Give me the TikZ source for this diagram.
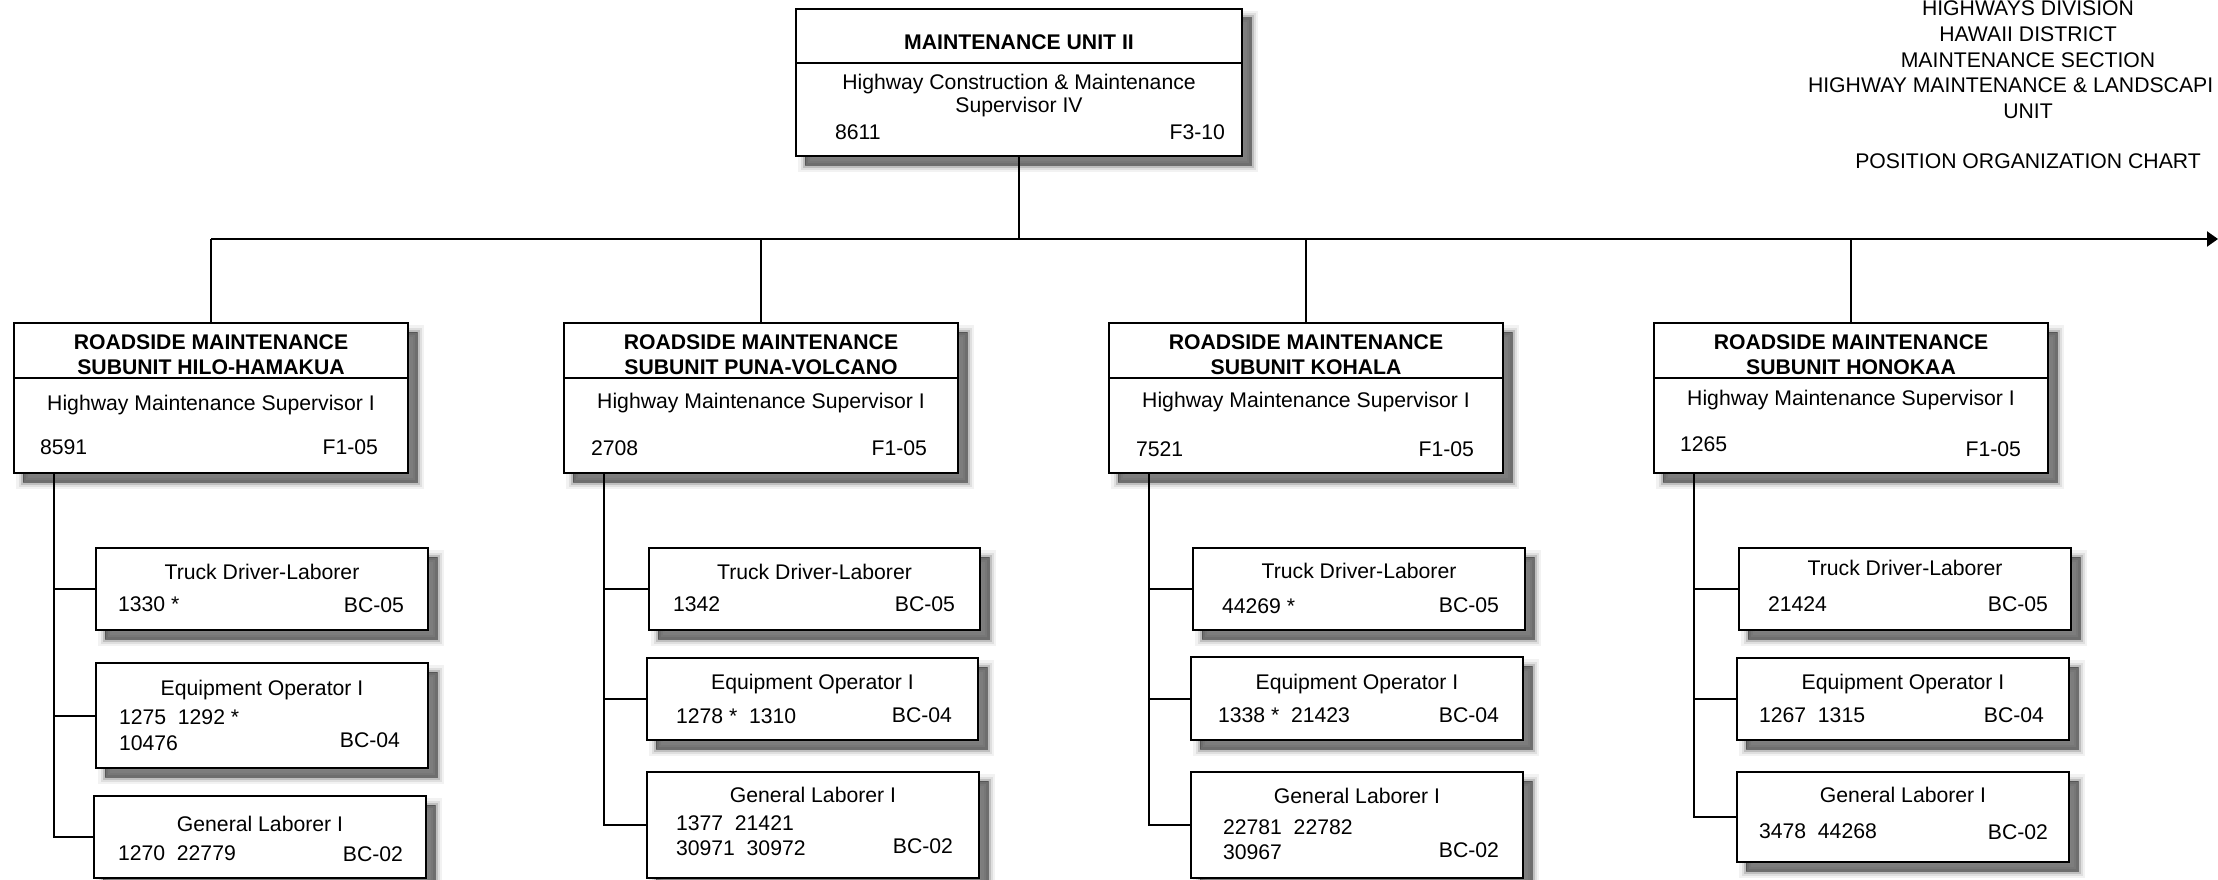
\documentclass[tikz,border=0pt]{standalone}
\usepackage{fontspec}
\setmainfont{Liberation Sans}
\usetikzlibrary{shadows,arrows.meta}
\tikzset{
  boxshadow/.style={
    general shadow={shadow xshift=9pt,shadow yshift=-9pt,draw=black,line width=14pt,opacity=0.05},
    general shadow={shadow xshift=9pt,shadow yshift=-9pt,draw=black,line width=9pt,opacity=0.08},
    general shadow={shadow xshift=9pt,shadow yshift=-9pt,draw=black,line width=5pt,opacity=0.14},
    general shadow={shadow xshift=9pt,shadow yshift=-9pt,fill=black!70,draw=black!70,line width=1pt,opacity=0.7}},
  pbox/.style={draw=black,fill=white,line width=2pt,inner sep=0pt,outer sep=0pt,boxshadow},
  divline/.style={draw=black,line width=1.5pt},
  conn/.style={draw=black,line width=2pt},
  txt/.style={inner sep=0pt,outer sep=0pt,font=\fontsize{21.2}{25}\selectfont,text height=15.2pt,text depth=0pt},
  btxt/.style={txt,font=\fontsize{21.2}{25}\selectfont\bfseries},
  lt/.style={txt,anchor=west},
  rt/.style={txt,anchor=east}
}
\newcommand\mkbox[5]{\node[pbox,anchor=north west,minimum width=#4pt,minimum height=#5pt] (#1) at (#2,#3) {};}
\begin{document}
\begin{tikzpicture}[x=1pt,y=-1pt]
\useasboundingbox (0,0) rectangle (2218,880);
\clip (0,0) rectangle (2218,880);
\fill[white] (0,0) rectangle (2218,880);

% header
\node[txt] (h1) at (2028,8) {HIGHWAYS DIVISION};
\node[txt] (h2) at (2028,34) {HAWAII DISTRICT};
\node[txt] (h3) at (2028,60) {MAINTENANCE SECTION};
\node[lt] (h4) at (1808,85) {HIGHWAY MAINTENANCE \& LANDSCAPI};
\node[txt] (h5) at (2028,111) {UNIT};
\node[txt] (h6) at (2028,161) {POSITION ORGANIZATION CHART};

% boxes
\mkbox{top}{796}{9}{446}{147}
\mkbox{s1}{14}{323}{394}{150}
\mkbox{s2}{564}{323}{394}{150}
\mkbox{s3}{1109}{323}{394}{150}
\mkbox{s4}{1654}{323}{394}{150}
\mkbox{a1}{96}{548}{332}{82}
\mkbox{b1}{96}{663}{332}{105}
\mkbox{c1}{94}{796}{332}{82}
\mkbox{a2}{649}{548}{331}{82}
\mkbox{b2}{647}{658}{331}{82}
\mkbox{c2}{647}{772}{332}{106}
\mkbox{a3}{1193}{548}{332}{82}
\mkbox{b3}{1191}{657}{332}{83}
\mkbox{c3}{1191}{772}{332}{106}
\mkbox{a4}{1739}{548}{332}{82}
\mkbox{b4}{1737}{658}{332}{82}
\mkbox{c4}{1737}{772}{332}{90}

% dividers
\draw[divline] ([yshift=-54pt]top.north west) -- ([yshift=-54pt]top.north east);
\foreach \s in {s1,s2,s3,s4}{
  \draw[divline] ([yshift=-55pt]\s.north west) -- ([yshift=-55pt]\s.north east);
}

% connectors
\coordinate (busY) at (0,239);
\coordinate (busEnd) at (2218,239);
\draw[conn] (top.south) -- (top.south |- busY);
\draw[conn,-{Triangle[length=11pt,width=15pt]}] (s1.north |- busY) -- (busEnd);
\foreach \s in {s1,s2,s3,s4}{
  \draw[conn] (\s.north) -- (\s.north |- busY);
}
\foreach \i in {1,2,3,4}{
  \coordinate (v\i) at ([xshift=40pt]s\i.south west);
  \draw[conn] (v\i) |- (c\i.west);
  \draw[conn] (v\i |- a\i.west) -- (a\i.west);
  \draw[conn] (v\i |- b\i.west) -- (b\i.west);
}

% top box texts
\node[btxt] (top1) at (1019,42) {MAINTENANCE UNIT II};
\node[txt] (top2) at (1019,82) {Highway Construction \& Maintenance};
\node[txt] (top3) at (1019,105) {Supervisor IV};
\node[lt] (top4) at (835,132) {8611};
\node[rt] (top5) at (1225,132) {F3-10};

% subunit texts
\node[btxt] (s1t1) at (211,342) {ROADSIDE MAINTENANCE};
\node[btxt] (s1t2) at (211,367) {SUBUNIT HILO-HAMAKUA};
\node[txt] (s1t3) at (211,403) {Highway Maintenance Supervisor I};
\node[lt] (s1t4) at (40,447) {8591};
\node[rt] (s1t5) at (378,447) {F1-05};

\node[btxt] (s2t1) at (761,342) {ROADSIDE MAINTENANCE};
\node[btxt] (s2t2) at (761,367) {SUBUNIT PUNA-VOLCANO};
\node[txt] (s2t3) at (761,401) {Highway Maintenance Supervisor I};
\node[lt] (s2t4) at (591,448) {2708};
\node[rt] (s2t5) at (927,448) {F1-05};

\node[btxt] (s3t1) at (1306,342) {ROADSIDE MAINTENANCE};
\node[btxt] (s3t2) at (1306,367) {SUBUNIT KOHALA};
\node[txt] (s3t3) at (1306,400) {Highway Maintenance Supervisor I};
\node[lt] (s3t4) at (1136,449) {7521};
\node[rt] (s3t5) at (1474,449) {F1-05};

\node[btxt] (s4t1) at (1851,342) {ROADSIDE MAINTENANCE};
\node[btxt] (s4t2) at (1851,367) {SUBUNIT HONOKAA};
\node[txt] (s4t3) at (1851,398) {Highway Maintenance Supervisor I};
\node[lt] (s4t4) at (1680,444) {1265};
\node[rt] (s4t5) at (2021,449) {F1-05};

% column 1 children
\node[txt] (a1t) at (262,572) {Truck Driver-Laborer};
\node[lt] (a1n) at (118,604) {1330 *};
\node[rt] (a1g) at (404,605) {BC-05};
\node[txt] (b1t) at (262,688) {Equipment Operator I};
\node[lt] (b1n) at (119,717) {1275\ \ 1292 *};
\node[lt] (b1m) at (119,743) {10476};
\node[rt] (b1g) at (400,740) {BC-04};
\node[txt] (c1t) at (260,824) {General Laborer I};
\node[lt] (c1n) at (118,853) {1270\ \ 22779};
\node[rt] (c1g) at (403,854) {BC-02};

% column 2 children
\node[txt] (a2t) at (814.5,572) {Truck Driver-Laborer};
\node[lt] (a2n) at (673,604) {1342};
\node[rt] (a2g) at (955,604) {BC-05};
\node[txt] (b2t) at (812.5,682) {Equipment Operator I};
\node[lt] (b2n) at (676,716) {1278 *\ \ 1310};
\node[rt] (b2g) at (952,715) {BC-04};
\node[txt] (c2t) at (813,795) {General Laborer I};
\node[lt] (c2n) at (676,823) {1377\ \ 21421};
\node[lt] (c2m) at (676,848) {30971\ \ 30972};
\node[rt] (c2g) at (953,846) {BC-02};

% column 3 children
\node[txt] (a3t) at (1359,571) {Truck Driver-Laborer};
\node[lt] (a3n) at (1222,606) {44269 *};
\node[rt] (a3g) at (1499,605) {BC-05};
\node[txt] (b3t) at (1357,682) {Equipment Operator I};
\node[lt] (b3n) at (1218,715) {1338 *\ \ 21423};
\node[rt] (b3g) at (1499,715) {BC-04};
\node[txt] (c3t) at (1357,796) {General Laborer I};
\node[lt] (c3n) at (1223,827) {22781\ \ 22782};
\node[lt] (c3m) at (1223,851.5) {30967};
\node[rt] (c3g) at (1499,849.5) {BC-02};

% column 4 children
\node[txt] (a4t) at (1905,568) {Truck Driver-Laborer};
\node[lt] (a4n) at (1768,604) {21424};
\node[rt] (a4g) at (2048,604) {BC-05};
\node[txt] (b4t) at (1903,682) {Equipment Operator I};
\node[lt] (b4n) at (1759,715) {1267\ \ 1315};
\node[rt] (b4g) at (2044,715) {BC-04};
\node[txt] (c4t) at (1903,795) {General Laborer I};
\node[lt] (c4n) at (1759,831) {3478\ \ 44268};
\node[rt] (c4g) at (2048,832) {BC-02};
\end{tikzpicture}
\end{document}
